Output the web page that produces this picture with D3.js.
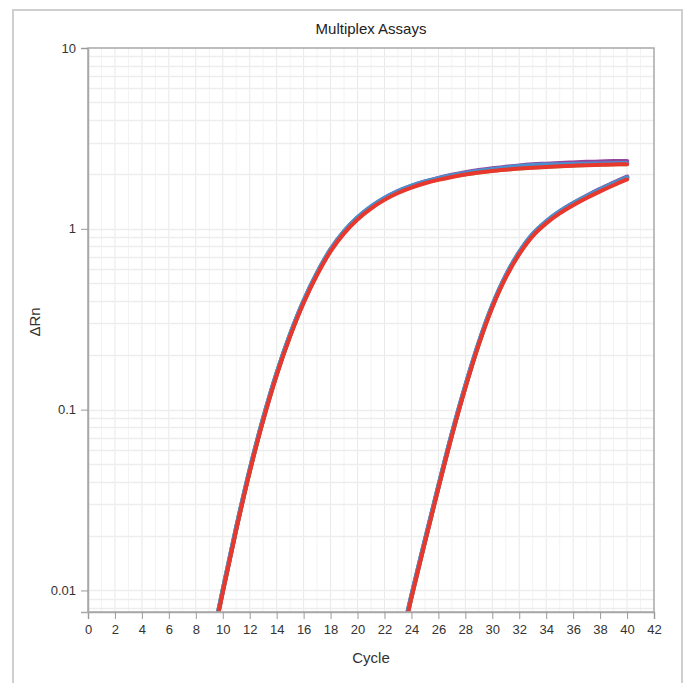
<!DOCTYPE html>
<html>
<head>
<meta charset="utf-8">
<script src="https://cdn.jsdelivr.net/npm/d3@7"></script>
<style>
  body { margin: 0; background: #fff; }
  svg { font-family: "Liberation Sans", Arial, sans-serif; }
</style>
</head>
<body>
<svg width="687" height="683"></svg>
<script>
// define constants
const svg = d3.select("svg");
const margin = { top: 48, right: 33, bottom: 71, left: 88 };
const width = 687;
const height = 683;

// cycles
const cyclesEarly = d3.range(9, 41);   // 9 .. 40
const cyclesLate = d3.range(23, 41);   // 23 .. 40

// early assay, one array per dye
const earlyGreen = [0.00436,0.00997,0.02206,0.04609,0.0888,0.1580,0.2592,0.397,0.567,0.765,0.963,1.148,1.316,1.468,1.600,1.710,1.804,1.882,1.950,2.007,2.057,2.099,2.133,2.163,2.188,2.208,2.228,2.244,2.259,2.269,2.280,2.285];
const earlyBlue = [0.00438,0.01001,0.02217,0.04632,0.0893,0.1588,0.2605,0.399,0.570,0.769,0.968,1.155,1.326,1.480,1.614,1.726,1.822,1.902,1.972,2.032,2.086,2.134,2.180,2.220,2.250,2.262,2.268,2.276,2.286,2.292,2.300,2.304];
const earlyPurple = [0.00436,0.00997,0.02206,0.04609,0.0888,0.1580,0.2592,0.397,0.567,0.765,0.963,1.150,1.320,1.474,1.610,1.724,1.822,1.908,1.985,2.050,2.108,2.157,2.198,2.236,2.265,2.286,2.307,2.323,2.339,2.349,2.361,2.366];
const earlyRed = [0.00427,0.00977,0.02163,0.04519,0.0871,0.1549,0.2541,0.389,0.5559,0.7499,0.9441,1.127,1.294,1.4454,1.578,1.690,1.786,1.866,1.936,1.995,2.046,2.089,2.123,2.153,2.178,2.198,2.218,2.234,2.249,2.259,2.270,2.275];

// late assay
const lateGreen = [0.00433,0.00926,0.01869,0.03728,0.07268,0.1338,0.2325,0.3728,0.5451,0.7353,0.9257,1.088,1.234,1.369,1.501,1.635,1.768,1.903];
const lateBlue = [0.00438,0.00935,0.01887,0.03765,0.07340,0.1351,0.2348,0.3765,0.5504,0.7425,0.9348,1.098,1.247,1.383,1.516,1.651,1.786,1.922];
const latePurple = [0.00436,0.00930,0.01878,0.03746,0.07304,0.1344,0.2337,0.3746,0.5477,0.7389,0.9302,1.096,1.246,1.384,1.520,1.658,1.795,1.940];
const lateRed = [0.00427,0.00912,0.01841,0.03673,0.07161,0.1318,0.2291,0.3673,0.5370,0.7244,0.9120,1.0715,1.2162,1.349,1.479,1.611,1.742,1.875];

const xTicks = d3.range(0, 43, 2);
const yTicks = [0.01, 0.1, 1, 10];
const yTickLabels = ["0.01", "0.1", "1", "10"];

// series in drawing order (red last, on top)
const series = [
  { cycles: cyclesEarly, values: earlyPurple, color: "#92449e", w: 4.5 },
  { cycles: cyclesLate, values: latePurple, color: "#92449e", w: 4.5 },
  { cycles: cyclesEarly, values: earlyGreen, color: "#86b64e", w: 4.5 },
  { cycles: cyclesLate, values: lateGreen, color: "#86b64e", w: 4.5 },
  { cycles: cyclesEarly, values: earlyBlue, color: "#4a8fce", w: 4.5 },
  { cycles: cyclesLate, values: lateBlue, color: "#4a8fce", w: 4.5 },
  { cycles: cyclesEarly, values: earlyRed, color: "#e8372c", w: 4 },
  { cycles: cyclesLate, values: lateRed, color: "#e8372c", w: 4 }
];

// scales
const x = d3.scaleLinear().domain([0, 42]).range([margin.left, width - margin.right]);
const y = d3.scaleLog().domain([0.0076, 10]).range([height - margin.bottom, margin.top]);

// outer frame
svg.append("rect")
  .attr("x", 13).attr("y", 10)
  .attr("width", 669).attr("height", 690)
  .attr("fill", "none")
  .attr("stroke", "#cfcfcf")
  .attr("stroke-width", 2);

// title
svg.append("text")
  .attr("x", (x.range()[0] + x.range()[1]) / 2)
  .attr("y", 34)
  .attr("text-anchor", "middle")
  .attr("font-size", 15)
  .attr("fill", "#222")
  .text("Multiplex Assays");

// grid
const grid = svg.append("g");
grid.selectAll("line.v")
  .data(d3.range(1, 42))
  .enter().append("line")
  .attr("x1", d => x(d)).attr("x2", d => x(d))
  .attr("y1", y.range()[1]).attr("y2", y.range()[0])
  .attr("stroke", d => d % 2 === 0 ? "#e9e9e9" : "#f3f3f3")
  .attr("stroke-width", 1);

grid.selectAll("line.h")
  .data(y.ticks(40).filter(d => d > 0.0076 && d < 10))
  .enter().append("line")
  .attr("x1", x.range()[0]).attr("x2", x.range()[1])
  .attr("y1", d => Math.round(y(d)) + 0.5).attr("y2", d => Math.round(y(d)) + 0.5)
  .attr("stroke", "#ededed")
  .attr("stroke-width", 1.5);

// curves
svg.append("clipPath").attr("id", "plot-clip")
  .append("rect")
  .attr("x", x.range()[0]).attr("y", y.range()[1])
  .attr("width", x.range()[1] - x.range()[0])
  .attr("height", y.range()[0] - y.range()[1]);

const line = d3.line()
  .x(d => x(d[0]))
  .y(d => y(d[1]))
  .curve(d3.curveCatmullRom.alpha(0.5));

svg.append("g")
  .attr("clip-path", "url(#plot-clip)")
  .selectAll("path")
  .data(series)
  .enter().append("path")
  .attr("d", s => line(s.cycles.map((c, i) => [c, s.values[i]])))
  .attr("fill", "none")
  .attr("stroke", s => s.color)
  .attr("stroke-width", s => s.w)
  .attr("stroke-linecap", "round")
  .attr("stroke-linejoin", "round");

// plot border
svg.append("rect")
  .attr("x", x.range()[0]).attr("y", y.range()[1])
  .attr("width", x.range()[1] - x.range()[0])
  .attr("height", y.range()[0] - y.range()[1])
  .attr("fill", "none")
  .attr("stroke", "#a8a8a8")
  .attr("stroke-width", 1.5);

// axes
const xAxis = svg.append("g")
  .attr("transform", `translate(0,${y.range()[0]})`)
  .call(d3.axisBottom(x).tickValues(xTicks).tickSize(7).tickPadding(6).tickFormat(d3.format("d")));

const yAxis = svg.append("g")
  .attr("transform", `translate(${x.range()[0]},0)`)
  .call(d3.axisLeft(y).tickValues(yTicks).tickSize(7).tickPadding(5).tickFormat((d, i) => yTickLabels[i]));

[xAxis, yAxis].forEach(ax => {
  ax.select(".domain").attr("stroke", "#a8a8a8").attr("stroke-width", 1.5);
  ax.selectAll(".tick line").attr("stroke", "#9a9a9a");
  ax.selectAll(".tick text").attr("fill", "#333").attr("font-size", 13)
    .attr("font-family", "'Liberation Sans', Arial, sans-serif");
});

// axis labels
svg.append("text")
  .attr("x", (x.range()[0] + x.range()[1]) / 2)
  .attr("y", 663)
  .attr("text-anchor", "middle")
  .attr("font-size", 15)
  .attr("fill", "#333")
  .text("Cycle");

svg.append("text")
  .attr("transform", `translate(40,${(y.range()[0] + y.range()[1]) / 2 - 8}) rotate(-90)`)
  .attr("text-anchor", "middle")
  .attr("font-size", 15)
  .attr("fill", "#333")
  .text("ΔRn");
</script>
</body>
</html>
